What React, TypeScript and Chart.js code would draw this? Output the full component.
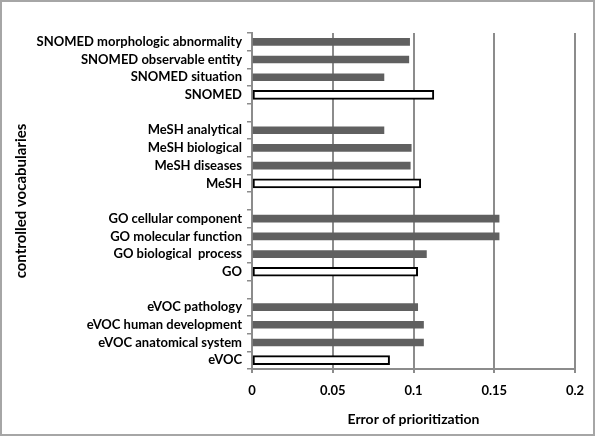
import React, { useEffect, useRef } from "react";
import { Chart, registerables } from "chart.js";

Chart.register(...registerables);

const categories = [
  "SNOMED morphologic abnormality",
  "SNOMED observable entity",
  "SNOMED situation",
  "SNOMED",
  "",
  "MeSH analytical",
  "MeSH biological",
  "MeSH diseases",
  "MeSH",
  "",
  "GO cellular component",
  "GO molecular function",
  "GO biological  process",
  "GO",
  "",
  "eVOC pathology",
  "eVOC human development",
  "eVOC anatomical system",
  "eVOC",
];

const subsetValues = [
  0.0976, 0.0971, 0.0817, null, null,
  0.0817, 0.0986, 0.098, null, null,
  0.153, 0.153, 0.108, null, null,
  0.1026, 0.1062, 0.1062, null,
];

const overallValues = [
  null, null, null, 0.1126, null,
  null, null, null, 0.1045, null,
  null, null, null, 0.1026, null,
  null, null, null, 0.0852,
];

const xTickLabels = ["0", "0.05", "0.1", "0.15", "0.2"];
const xTitle = "Error of prioritization";
const yTitle = "controlled vocabularies";

const FONT = "Lato, 'Open Sans', sans-serif";

const framePlugin = {
  id: "frame",
  beforeDraw(chart: any) {
    const ctx = chart.ctx;
    ctx.save();
    ctx.fillStyle = "#ffffff";
    ctx.fillRect(0, 0, chart.width, chart.height);
    ctx.strokeStyle = "#a6a6a6";
    ctx.lineWidth = 2;
    ctx.strokeRect(1, 1, 593, 434);
    ctx.restore();
  },
};

export default function App() {
  const ref = useRef<HTMLCanvasElement | null>(null);

  useEffect(() => {
    if (!ref.current) return;
    const chart = new Chart(ref.current, {
      type: "bar",
      data: {
        labels: categories,
        datasets: [
          {
            label: "subsets",
            data: subsetValues as any,
            backgroundColor: "#606060",
            borderWidth: 0,
            barThickness: 7,
            grouped: false,
          } as any,
          {
            label: "overall",
            data: overallValues as any,
            backgroundColor: "#ffffff",
            borderColor: "#000000",
            borderWidth: 2,
            borderSkipped: false,
            barThickness: 9,
            grouped: false,
          } as any,
        ],
      },
      options: {
        indexAxis: "y",
        animation: false,
        responsive: false,
        maintainAspectRatio: false,
        layout: { padding: { left: 0, right: 25, top: 33, bottom: 0 } },
        plugins: {
          legend: { display: false },
          tooltip: { enabled: false },
        },
        scales: {
          x: {
            min: 0,
            max: 0.2,
            afterFit: (s: any) => {
              s.height = 436 - 369;
            },
            ticks: {
              stepSize: 0.05,
              color: "#000000",
              padding: 10,
              font: { family: FONT, size: 13, weight: "bold" },
              callback: (_v: any, i: number) => xTickLabels[i],
            },
            grid: {
              color: "#8c8c8c",
              lineWidth: 2,
              tickLength: 4,
              drawOnChartArea: true,
            },
            border: { display: true, color: "#8c8c8c", width: 2 },
            title: {
              display: true,
              text: xTitle,
              color: "#000000",
              font: { family: FONT, size: 14, weight: "bold" },
              padding: { top: 0, bottom: 8 },
            },
          },
          y: {
            afterFit: (s: any) => {
              s.width = 252;
            },
            ticks: {
              autoSkip: false,
              color: "#000000",
              padding: 5,
              font: { family: FONT, size: 13, weight: "bold" },
            },
            grid: {
              offset: true,
              drawOnChartArea: false,
              color: "#8c8c8c",
              lineWidth: 1.5,
              tickLength: 5,
            },
            border: { display: true, color: "#8c8c8c", width: 2 },
            title: {
              display: true,
              text: yTitle,
              color: "#000000",
              font: { family: FONT, size: 15, weight: "bold" },
              padding: { top: 12, bottom: 0 },
            },
          },
        },
      },
      plugins: [framePlugin],
    });
    return () => chart.destroy();
  }, []);

  return (
    <div style={{ position: "absolute", left: 0, top: 0, width: 600, height: 436 }}>
      <canvas ref={ref} width={600} height={436} style={{ display: "block" }} />
    </div>
  );
}
